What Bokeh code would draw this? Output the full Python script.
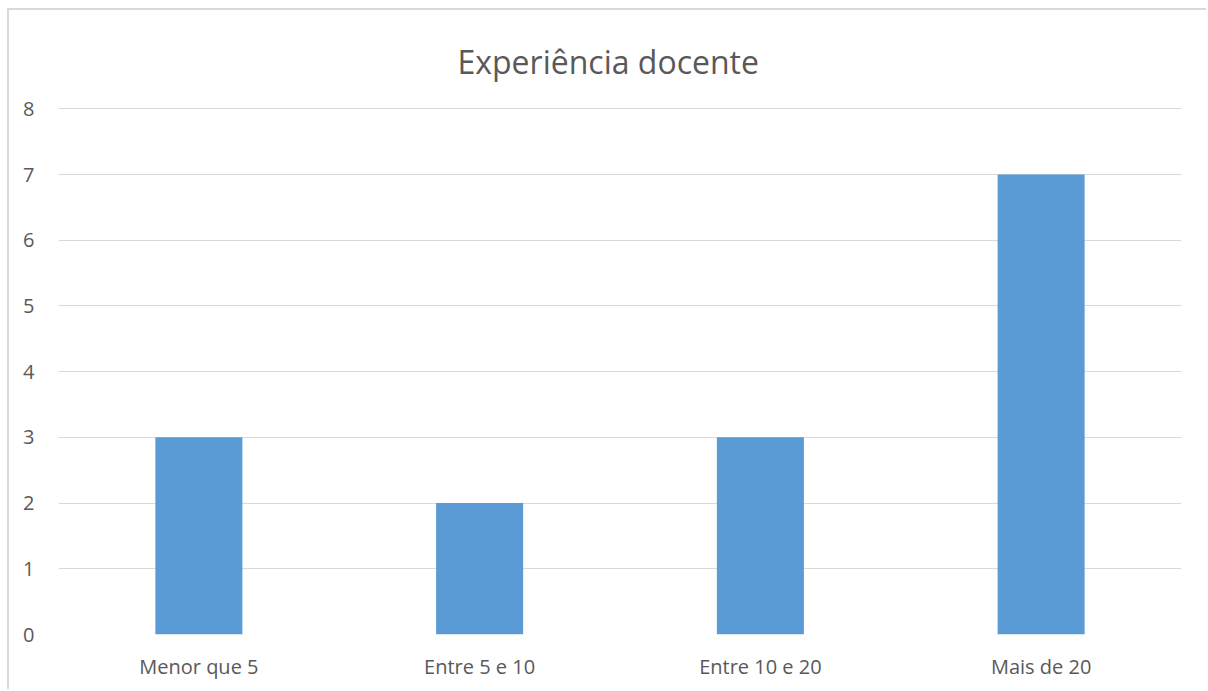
from bokeh.plotting import figure
from bokeh.models import FactorRange, Range1d, FixedTicker
from bokeh.embed import file_html
from bokeh.resources import INLINE

categories = ["Menor que 5", "Entre 5 e 10", "Entre 10 e 20", "Mais de 20"]
values = [3, 2, 3, 7]
y_ticks = [0, 1, 2, 3, 4, 5, 6, 7, 8]

FONT = "Open Sans"
TXT = "#595959"

p = figure(x_range=FactorRange(*categories, range_padding=0), y_range=Range1d(0, 8.02),
           width=1199, height=681, output_backend="svg", toolbar_location=None,
           title="Experiência docente")
p.margin = (8, 0, 0, 7)
p.styles = {"border-top": "2px solid #d9d9d9", "border-left": "2px solid #d9d9d9"}
p.min_border_left = 49
p.min_border_right = 27
p.min_border_top = 97
p.min_border_bottom = 57
p.outline_line_color = None
p.background_fill_color = "white"
p.border_fill_color = "white"

p.title.align = "left"
p.title.offset = 399
p.title.text_font = FONT
p.title.text_font_size = "32px"
p.title.text_font_style = "normal"
p.title.text_color = TXT
p.title.text_baseline = "middle"
p.title.standoff = 50

p.vbar(x=categories, top=values, width=0.31, fill_color="#5b9bd5", line_color=None)

p.yaxis.ticker = FixedTicker(ticks=y_ticks)
p.ygrid.ticker = FixedTicker(ticks=y_ticks)
p.ygrid.grid_line_color = "#d9d9d9"
p.ygrid.grid_line_width = 1
p.xgrid.grid_line_color = None

for ax in (p.xaxis, p.yaxis):
    ax.axis_line_color = None
    ax.major_tick_line_color = None
    ax.minor_tick_line_color = None
    ax.major_label_text_font = FONT
    ax.major_label_text_font_size = "20px"
    ax.major_label_text_color = TXT
p.yaxis.major_label_standoff = 18
p.xaxis.major_label_standoff = 12

open("out.html", "w").write(file_html(p, INLINE))
